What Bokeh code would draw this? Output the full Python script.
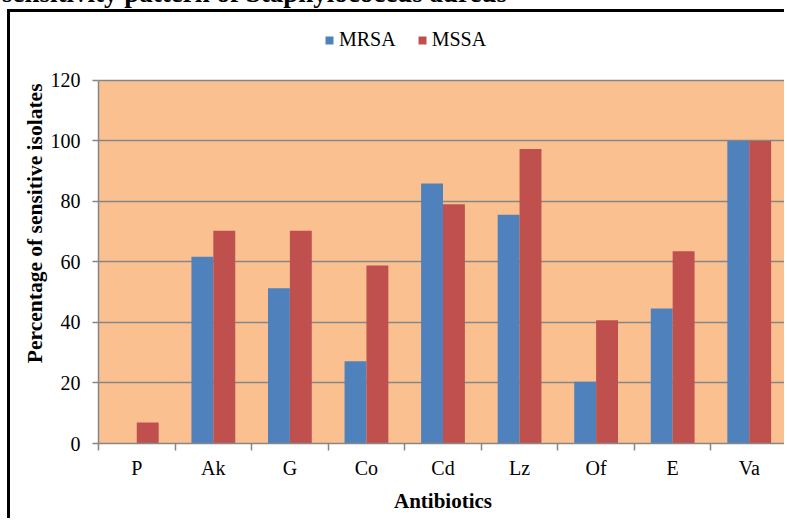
from bokeh.plotting import figure
from bokeh.models import (ColumnDataSource, FixedTicker, Legend, LegendItem, Title, Range1d, Div)
from bokeh.layouts import column
from bokeh.embed import file_html
from bokeh.resources import INLINE

title_text = "sensitivity pattern of Staphylococcus aureus"
categories = ["P", "Ak", "G", "Co", "Cd", "Lz", "Of", "E", "Va"]
mrsa = [0, 61.7, 51.3, 27.2, 85.9, 75.6, 20.4, 44.6, 100]
mssa = [6.9, 70.3, 70.3, 58.8, 79.1, 97.3, 40.7, 63.5, 100]
y_ticks = [0, 20, 40, 60, 80, 100, 120]

n = len(categories)
centers = [i + 0.5 for i in range(n)]
off = 0.143
bw = 0.286
y_top = 139.8  # extra head-room above the plot area for the legend

src = ColumnDataSource(dict(
    x1=[c - off for c in centers], x2=[c + off for c in centers],
    mrsa=mrsa, mssa=mssa))

font = "Liberation Serif"
grey = "#868686"

head = Div(text=('<div style="position:relative;top:-20px;left:2px;white-space:nowrap;'
                 'font-family:\'Liberation Serif\';font-weight:bold;font-size:27px;'
                 'line-height:27px;color:black">' + title_text + '</div>'),
           width=787, height=9,
           styles={"overflow": "hidden", "height": "9px", "max-height": "9px",
                   "margin": "0", "padding": "0"})

p = figure(width=777, height=509, output_backend="svg", toolbar_location=None,
           x_range=Range1d(0, n), y_range=Range1d(0, y_top),
           min_border_left=88, min_border_right=0, min_border_top=8, min_border_bottom=78)
p.styles = {"margin-left": "7px", "border-left": "3px solid black", "border-top": "3px solid black"}

p.background_fill_color = "white"
p.border_fill_color = "white"
p.outline_line_color = None

# plot-area background (peach) spanning the value axis 0..120
p.quad(left=0, right=n, bottom=y_ticks[0], top=y_ticks[-1], fill_color="#FAC090",
       line_color=None, level="image")

r1 = p.vbar(x="x1", top="mrsa", width=bw, source=src, fill_color="#4F81BD", line_color=None)
r2 = p.vbar(x="x2", top="mssa", width=bw, source=src, fill_color="#C0504D", line_color=None)

# x axis
xa = p.xaxis[0]
xa.ticker = FixedTicker(ticks=centers, minor_ticks=list(range(n + 1)))
xa.major_label_overrides = {c: lab for c, lab in zip(centers, categories)}
xa.major_tick_line_color = None
xa.major_tick_out = 0
xa.major_tick_in = 0
xa.minor_tick_line_color = grey
xa.minor_tick_line_width = 1.5
xa.minor_tick_out = 7
xa.minor_tick_in = 0
xa.axis_line_color = grey
xa.axis_line_width = 1.5
xa.major_label_text_font = font
xa.major_label_text_font_size = "20px"
xa.major_label_text_color = "black"
xa.major_label_standoff = 6
xa.axis_label = "Antibiotics"
xa.axis_label_text_font = font
xa.axis_label_text_font_size = "21px"
xa.axis_label_text_font_style = "bold"
xa.axis_label_text_color = "black"
xa.axis_label_standoff = 7

# y axis
ya = p.yaxis[0]
ya.ticker = FixedTicker(ticks=y_ticks)
ya.bounds = (y_ticks[0], y_ticks[-1])
ya.major_tick_line_color = grey
ya.major_tick_line_width = 1.5
ya.major_tick_out = 6
ya.major_tick_in = 0
ya.minor_tick_line_color = None
ya.axis_line_color = grey
ya.axis_line_width = 1.5
ya.major_label_text_font = font
ya.major_label_text_font_size = "20px"
ya.major_label_text_color = "black"
ya.major_label_standoff = 12

p.xgrid.grid_line_color = None
p.ygrid.grid_line_color = grey
p.ygrid.grid_line_width = 1.5
p.ygrid.ticker = FixedTicker(ticks=y_ticks)

p.add_layout(Title(text="Percentage of sensitive isolates", align="right", offset=63,
                   text_font=font, text_font_size="21.5px", text_font_style="bold",
                   text_color="black", standoff=2), "left")

legend = Legend(items=[LegendItem(label="MRSA", renderers=[r1]),
                       LegendItem(label="MSSA", renderers=[r2])],
                location=(226, 392), orientation="horizontal",
                glyph_width=10, glyph_height=10, label_standoff=5, spacing=21,
                padding=0, margin=0, border_line_color=None, background_fill_alpha=0,
                label_text_font=font, label_text_font_size="20px", label_text_color="black")
p.add_layout(legend, "center")

layout = column(head, p, spacing=0)
open("out.html", "w").write(file_html(layout, INLINE))
